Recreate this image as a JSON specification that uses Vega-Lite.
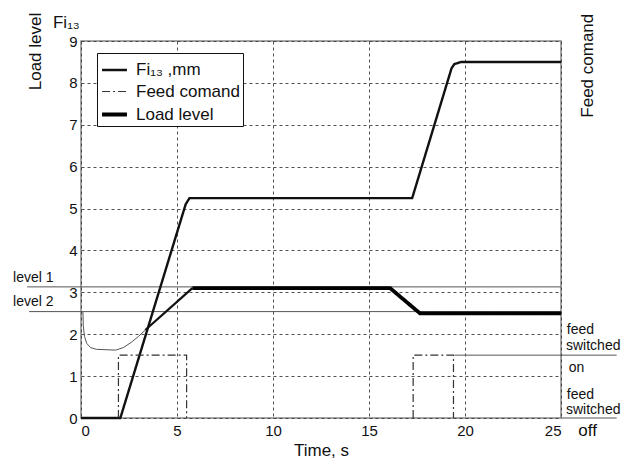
{
  "$schema": "https://vega.github.io/schema/vega-lite/v6.json",
  "width": 480,
  "height": 377,
  "autosize": {"type": "none"},
  "padding": {"left": 81, "top": 41, "right": 81, "bottom": 41},
  "background": "white",
  "config": {
    "font": "Liberation Sans",
    "view": {"stroke": "#888", "strokeWidth": 1.5},
    "axis": {
      "grid": true, "gridColor": "#333", "gridDash": [3, 3], "gridWidth": 1, "gridOpacity": 0.85,
      "ticks": false, "domain": false, "labelFontSize": 15, "labelColor": "#111",
      "titleFontSize": 17, "titleFontWeight": "normal", "titleColor": "#111", "labelOverlap": false
    },
    "legend": {
      "labelFontSize": 17, "labelColor": "#111", "strokeColor": "#111", "fillColor": "white",
      "padding": 3, "symbolType": "stroke", "symbolSize": 620, "rowPadding": -4, "labelOffset": 7, "labelLimit": 300
    }
  },
  "datasets": {
    "curves": [
      {"series": "Fi₁₃ ,mm", "seg": "a", "i": 0, "x": 0, "y": 0},
      {"series": "Fi₁₃ ,mm", "seg": "a", "i": 1, "x": 2.05, "y": 0},
      {"series": "Fi₁₃ ,mm", "seg": "a", "i": 2, "x": 5.45, "y": 5.1},
      {"series": "Fi₁₃ ,mm", "seg": "a", "i": 3, "x": 5.65, "y": 5.25},
      {"series": "Fi₁₃ ,mm", "seg": "a", "i": 4, "x": 17.25, "y": 5.25},
      {"series": "Fi₁₃ ,mm", "seg": "a", "i": 5, "x": 19.3, "y": 8.35},
      {"series": "Fi₁₃ ,mm", "seg": "a", "i": 6, "x": 19.45, "y": 8.45},
      {"series": "Fi₁₃ ,mm", "seg": "a", "i": 7, "x": 19.8, "y": 8.5},
      {"series": "Fi₁₃ ,mm", "seg": "a", "i": 8, "x": 25, "y": 8.5},
      {"series": "Feed comand", "seg": "b1", "i": 0, "x": 1.95, "y": 0},
      {"series": "Feed comand", "seg": "b1", "i": 1, "x": 1.95, "y": 1.5},
      {"series": "Feed comand", "seg": "b1", "i": 2, "x": 5.5, "y": 1.5},
      {"series": "Feed comand", "seg": "b1", "i": 3, "x": 5.5, "y": 0},
      {"series": "Feed comand", "seg": "b2", "i": 0, "x": 17.3, "y": 0},
      {"series": "Feed comand", "seg": "b2", "i": 1, "x": 17.3, "y": 1.5},
      {"series": "Feed comand", "seg": "b2", "i": 2, "x": 19.4, "y": 1.5},
      {"series": "Feed comand", "seg": "b2", "i": 3, "x": 19.4, "y": 0},
      {"series": "Load level", "seg": "c", "i": 0, "x": 5.8, "y": 3.1},
      {"series": "Load level", "seg": "c", "i": 1, "x": 16.1, "y": 3.1},
      {"series": "Load level", "seg": "c", "i": 2, "x": 17.65, "y": 2.5},
      {"series": "Load level", "seg": "c", "i": 3, "x": 25, "y": 2.5}
    ],
    "aux": [
      {"name": "level1", "i": 0, "x": -2.8, "y": 3.13},
      {"name": "level1", "i": 1, "x": 25, "y": 3.13},
      {"name": "level2", "i": 0, "x": -2.7, "y": 2.54},
      {"name": "level2", "i": 1, "x": 25, "y": 2.54},
      {"name": "on", "i": 0, "x": 19.45, "y": 1.5},
      {"name": "on", "i": 1, "x": 27.9, "y": 1.5},
      {"name": "off", "i": 0, "x": 25, "y": 0},
      {"name": "off", "i": 1, "x": 27.9, "y": 0},
      {"name": "loadStart", "i": 0, "x": 0.1, "y": 2.55},
      {"name": "loadStart", "i": 1, "x": 0.12, "y": 2.2},
      {"name": "loadStart", "i": 2, "x": 0.18, "y": 1.95},
      {"name": "loadStart", "i": 3, "x": 0.3, "y": 1.78},
      {"name": "loadStart", "i": 4, "x": 0.5, "y": 1.68},
      {"name": "loadStart", "i": 5, "x": 0.8, "y": 1.64},
      {"name": "loadStart", "i": 6, "x": 1.8, "y": 1.62},
      {"name": "loadStart", "i": 7, "x": 2.2, "y": 1.68},
      {"name": "loadStart", "i": 8, "x": 2.6, "y": 1.8},
      {"name": "loadStart", "i": 9, "x": 3.0, "y": 1.95},
      {"name": "loadStart", "i": 10, "x": 3.35, "y": 2.1}
    ],
    "rise": [
      {"i": 0, "x": 3.35, "y": 2.1},
      {"i": 1, "x": 5.8, "y": 3.1}
    ],
    "notes": [
      {"label": "level 1", "x": -3.54, "y": 3.34},
      {"label": "level 2", "x": -3.54, "y": 2.78},
      {"label": "feed", "x": 25.3, "y": 2.09},
      {"label": "switched", "x": 25.26, "y": 1.71},
      {"label": "on", "x": 25.4, "y": 1.2},
      {"label": "feed", "x": 25.3, "y": 0.56},
      {"label": "switched", "x": 25.26, "y": 0.19}
    ],
    "off": [{"label": "off", "x": 25.9, "y": -0.32}],
    "fi": [{"label": "Fi₁₃", "x": -1.46, "y": 9.44}],
    "fc": [{"label": "Feed comand", "x": 26.4, "y": 8.41}]
  },
  "encoding": {
    "x": {
      "field": "x", "type": "quantitative",
      "scale": {"domain": [0, 25], "nice": false, "zero": false},
      "axis": {"values": [0, 5, 10, 15, 20, 25], "title": "Time, s", "labelPadding": 5, "titlePadding": 4}
    },
    "y": {
      "field": "y", "type": "quantitative",
      "scale": {"domain": [0, 9], "nice": false},
      "axis": {
        "values": [0, 1, 2, 3, 4, 5, 6, 7, 8, 9], "title": "Load level", "labelPadding": 4,
        "titleAngle": 270, "titleX": -46, "titleY": 10, "titleAlign": "center", "titleBaseline": "middle"
      }
    }
  },
  "layer": [
    {
      "data": {"name": "aux"},
      "mark": {"type": "line", "strokeWidth": 1, "color": "#555"},
      "encoding": {"detail": {"field": "name"}, "order": {"field": "i", "type": "quantitative"}}
    },
    {
      "data": {"name": "rise"},
      "mark": {"type": "line", "strokeWidth": 2.2, "color": "#111"},
      "encoding": {"order": {"field": "i", "type": "quantitative"}}
    },
    {
      "data": {"name": "curves"},
      "mark": {"type": "line"},
      "encoding": {
        "detail": {"field": "seg"},
        "order": {"field": "i", "type": "quantitative"},
        "color": {
          "field": "series", "type": "nominal",
          "scale": {"domain": ["Fi₁₃ ,mm", "Feed comand", "Load level"], "range": ["#111", "#333", "#000"]},
          "legend": {"title": null, "orient": "none", "legendX": 16, "legendY": 12}
        },
        "strokeDash": {
          "field": "series", "type": "nominal",
          "scale": {"type": "ordinal", "domain": ["Fi₁₃ ,mm", "Feed comand", "Load level"], "range": [[1, 0], [8, 3, 2, 3], [1, 0]]},
          "legend": {"title": null, "orient": "none", "legendX": 16, "legendY": 12}
        },
        "strokeWidth": {
          "field": "series", "type": "nominal",
          "scale": {"type": "ordinal", "domain": ["Fi₁₃ ,mm", "Feed comand", "Load level"], "range": [2.4, 1.2, 3.8]},
          "legend": {"title": null, "orient": "none", "legendX": 16, "legendY": 12}
        }
      }
    },
    {
      "data": {"name": "notes"},
      "mark": {"type": "text", "align": "left", "baseline": "middle", "fontSize": 14, "color": "#111"},
      "encoding": {"text": {"field": "label"}}
    },
    {
      "data": {"name": "off"},
      "mark": {"type": "text", "align": "left", "baseline": "middle", "fontSize": 17, "color": "#111"},
      "encoding": {"text": {"field": "label"}}
    },
    {
      "data": {"name": "fi"},
      "mark": {"type": "text", "align": "left", "baseline": "middle", "fontSize": 17, "color": "#111"},
      "encoding": {"text": {"field": "label"}}
    },
    {
      "data": {"name": "fc"},
      "mark": {"type": "text", "align": "center", "baseline": "middle", "fontSize": 17, "angle": 270, "color": "#111"},
      "encoding": {"text": {"field": "label"}}
    }
  ]
}
